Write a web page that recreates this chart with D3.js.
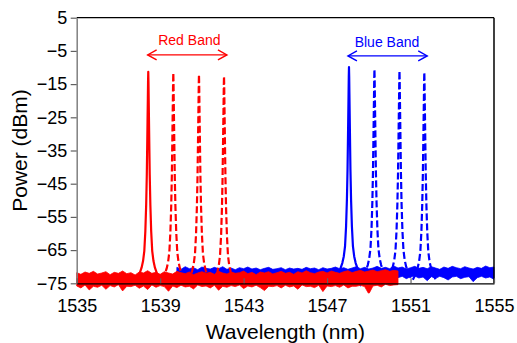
<!DOCTYPE html>
<html><head><meta charset="utf-8">
<script src="https://cdn.jsdelivr.net/npm/d3@7"></script>
<style>body{margin:0;background:#fff}svg{display:block;font-family:"Liberation Sans",Arial,sans-serif}</style>
</head><body>
<script>
const xTicks = [1535,1539,1543,1547,1551,1555];
const yTicks = [5,-5,-15,-25,-35,-45,-55,-65,-75];

// Peak profile: [offset from centre (nm), drop below peak (dB)]
const peakShape = [[0,0],[0.01,3],[0.02,8],[0.035,15],[0.05,22],[0.07,31],[0.1,40],[0.14,48],[0.19,54],[0.25,57],[0.32,59],[0.43,61],[0.55,62.5]];

const redCenters = [1538.43,1539.63,1540.86,1542.06];
const redTops = [-11.3,-11.6,-12.1,-12.6];
const redDashed = [false,true,true,true];
const blueCenters = [1548.05,1549.27,1550.47,1551.66];
const blueTops = [-9.9,-10.5,-11.0,-11.4];
const blueDashed = [false,true,true,true];

// Noise floor envelopes (0.2 nm steps)
const redStart = 1535;
const redHi = [-71.8,-72.3,-71.6,-72.0,-71.4,-72.2,-71.9,-71.5,-72.4,-71.7,
-72.0,-71.3,-72.1,-71.8,-72.5,-71.6,-71.9,-71.2,-72.0,-71.7,
-72.3,-71.5,-71.9,-72.2,-71.4,-71.8,-72.1,-71.6,-72.4,-71.9,
-71.5,-72.0,-71.7,-72.3,-71.4,-71.9,-72.2,-71.6,-72.0,-71.8,
-71.3,-72.1,-71.7,-72.4,-71.6,-71.9,-71.5,-72.2,-71.8,-71.4,
-72.0,-71.7,-72.3,-71.5,-71.9,-71.2,-71.8,-72.1,-71.6,-71.4,
-71.9,-71.3,-71.7,-72.0,-71.5,-71.2,-71.8,-71.4,-71.1,-71.6,
-71.3,-71.0,-71.5,-71.2,-70.9,-71.4,-71.1,-71.3];
const redLo = [-75.8,-76.4,-75.5,-77.0,-75.9,-76.2,-75.6,-76.8,-75.7,-76.1,
-75.4,-77.3,-75.9,-76.0,-75.6,-76.5,-75.8,-76.9,-75.5,-76.2,
-75.7,-76.0,-77.4,-75.8,-76.3,-75.6,-76.1,-75.9,-76.7,-75.5,
-76.0,-75.8,-76.4,-75.6,-77.1,-75.9,-76.2,-75.7,-76.0,-75.5,
-76.6,-75.8,-76.1,-75.6,-76.3,-77.2,-75.9,-76.0,-75.7,-76.4,
-75.6,-76.1,-75.8,-76.8,-75.5,-76.0,-75.9,-76.3,-75.6,-77.5,
-75.8,-76.0,-75.7,-76.2,-75.5,-76.4,-75.9,-75.9,-75.6,-76.0,
-78.2,-75.8,-75.6,-76.1,-75.3,-75.7,-75.5,-75.4];
const blueStart = 1539.8;
const blueHi = [-70.2,-70.8,-70.0,-70.6,-70.3,-70.9,-70.1,-70.5,-70.7,-70.2,
-70.6,-70.0,-70.8,-70.4,-70.9,-70.3,-70.6,-70.1,-70.7,-70.4,
-70.9,-70.5,-70.2,-70.8,-70.6,-70.3,-70.9,-70.4,-70.7,-70.5,
-70.8,-70.2,-70.6,-70.4,-70.9,-70.3,-70.7,-70.5,-70.1,-70.6,
-70.3,-70.8,-70.4,-70.0,-70.6,-70.2,-70.7,-70.4,-69.9,-70.5,
-70.2,-70.6,-69.8,-70.4,-70.1,-70.7,-70.3,-69.9,-70.5,-70.2,
-70.6,-70.0,-70.4,-70.8,-70.1,-70.5,-69.9,-70.3,-70.6,-70.0,
-70.4,-70.7,-70.2,-70.5,-69.8,-70.3,-70.1];
const blueLo = [-73.2,-72.8,-75.5,-73.0,-72.7,-73.4,-72.9,-73.1,-72.6,-73.3,
-72.8,-73.0,-73.5,-72.7,-73.1,-72.9,-73.4,-72.8,-73.0,-72.6,
-73.3,-72.9,-73.1,-72.7,-73.2,-72.8,-73.6,-72.9,-73.0,-72.7,
-73.2,-72.8,-73.4,-72.9,-73.1,-72.6,-73.3,-72.9,-73.0,-72.8,
-73.5,-72.7,-73.1,-72.9,-75.9,-72.8,-73.2,-72.9,-73.0,-72.7,
-73.4,-73.0,-72.8,-73.3,-72.9,-73.6,-73.0,-72.8,-73.4,-73.1,
-74.2,-73.0,-73.5,-72.9,-73.3,-74.0,-73.1,-72.9,-73.6,-73.2,
-73.0,-74.5,-73.3,-72.9,-73.4,-73.1,-73.8];
const step = 0.2;

const W = 517, H = 343;
const m = {l:76.7, t:17.7, r:W-494, b:H-283.3};
const iw = W-m.l-m.r, ih = H-m.t-m.b;

const svg = d3.select("body").append("svg").attr("width",W).attr("height",H);
const g = svg.append("g").attr("transform",`translate(${m.l},${m.t})`);
const x = d3.scaleLinear().domain([1535,1555]).range([0,iw]);
const y = d3.scaleLinear().domain([-75,5]).range([ih,0]);

svg.append("defs").append("clipPath").attr("id","clip").append("rect").attr("x",-2).attr("y",-2).attr("width",iw+4).attr("height",ih+12);
const plot = g.append("g").attr("clip-path","url(#clip)");

function band(start, hi, lo, color){
  const pts = hi.map((h,i)=>({w:start+i*step, h, l:lo[i]}));
  plot.append("path").datum(pts)
    .attr("d", d3.area().x(d=>x(d.w)).y0(d=>y(d.l)).y1(d=>y(d.h)))
    .attr("fill", color).attr("stroke", color).attr("stroke-width",0.8);
}
function peaks(centers, tops, dashed, color){
  centers.forEach((c,i)=>{
    const left = peakShape.slice().reverse().map(([dx,dr])=>[c-dx, tops[i]-dr]);
    const right = peakShape.slice(1).map(([dx,dr])=>[c+dx, tops[i]-dr]);
    plot.append("path").datum(left.concat(right))
      .attr("d", d3.line().x(d=>x(d[0])).y(d=>y(d[1])))
      .attr("fill","none").attr("stroke",color).attr("stroke-width",2.2)
      .attr("stroke-linejoin","round")
      .attr("stroke-dasharray", dashed[i] ? "7,3" : null);
  });
}
band(blueStart, blueHi, blueLo, "#0000ff");
peaks(blueCenters, blueTops, blueDashed, "#0000ff");
band(redStart, redHi, redLo, "#ff0000");
peaks(redCenters, redTops, redDashed, "#ff0000");

// frame
g.append("line").attr("x1",0).attr("x2",iw).attr("y1",0).attr("y2",0).attr("stroke","#000").attr("stroke-width",1.3);
g.append("line").attr("x1",iw).attr("x2",iw).attr("y1",0).attr("y2",ih).attr("stroke","#000").attr("stroke-width",1.5);

const FONT = "Liberation Sans, Arial, sans-serif";
// axes
const ya = g.append("g").call(d3.axisLeft(y).tickValues(yTicks).tickSize(6).tickPadding(3.5).tickSizeOuter(0));
ya.select(".domain").attr("stroke","#808080").attr("stroke-width",1.5);
ya.selectAll(".tick line").attr("stroke","#606060").attr("stroke-width",1.2);
ya.selectAll("text").attr("font-size",18).attr("fill","#000").attr("font-family",FONT);

const xa = g.append("g").attr("transform",`translate(0,${ih})`)
  .call(d3.axisBottom(x).tickValues(xTicks).tickFormat(d3.format("d")).tickSize(-5).tickPadding(16.4).tickSizeOuter(0));
xa.select(".domain").attr("stroke","#000").attr("stroke-width",1.3);
xa.selectAll(".tick line").attr("stroke","#606060").attr("stroke-width",1.2);
xa.selectAll("text").attr("font-size",18).attr("fill","#000").attr("font-family",FONT);

// axis titles
svg.append("text").attr("transform",`translate(27,${m.t+ih/2}) rotate(-90)`)
  .attr("text-anchor","middle").attr("font-size",21).attr("font-family",FONT).text("Power (dBm)");
svg.append("text").attr("x",m.l+iw/2).attr("y",339).attr("text-anchor","middle")
  .attr("font-size",21).attr("font-family",FONT).text("Wavelength (nm)");

// band annotations
function annot(x1,x2,yv,label,lx,ly,color){
  const X1=x(x1), X2=x(x2), Y=y(yv);
  g.append("line").attr("x1",X1).attr("x2",X2).attr("y1",Y).attr("y2",Y).attr("stroke",color).attr("stroke-width",1.4);
  g.append("path").attr("d",`M${X1+9},${Y-5}L${X1},${Y}L${X1+9},${Y+5}M${X2-9},${Y-5}L${X2},${Y}L${X2-9},${Y+5}`)
    .attr("fill","none").attr("stroke",color).attr("stroke-width",1.4);
  g.append("text").attr("x",x(lx)).attr("y",y(ly)).attr("text-anchor","middle").attr("font-size",14).attr("font-family",FONT).attr("fill",color).text(label);
}
annot(1538.4,1542.2,-6.2,"Red Band",1540.4,-3.3,"#ff0000");
annot(1548.0,1551.8,-6.5,"Blue Band",1549.87,-3.7,"#0000ff");
</script>
</body></html>
